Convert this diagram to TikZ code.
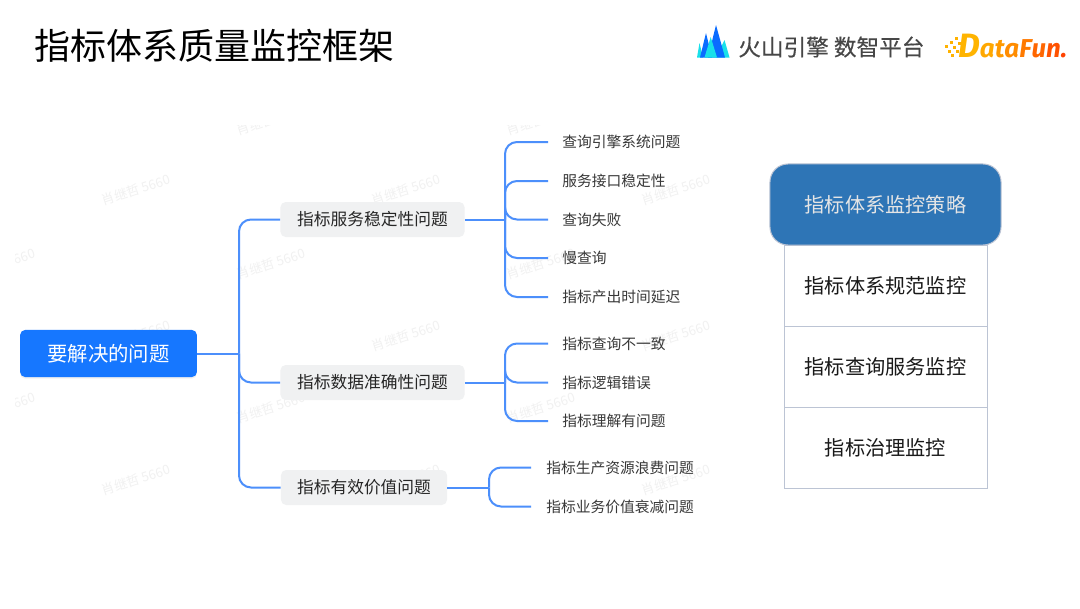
\documentclass[tikz,border=0pt]{standalone}
\usepackage{fontspec}
\usepackage{xcolor}
\usetikzlibrary{shadows}
\setmainfont{Noto Sans CJK SC}
\newfontfamily\logofont{Fira Sans}
\newfontfamily\volcfont[FakeBold=0.35]{Noto Sans CJK SC}
\definecolor{linkblue}{HTML}{4C8FFB}
\definecolor{rootblue}{HTML}{1677FF}
\definecolor{branchgray}{HTML}{F0F1F2}
\definecolor{headblue}{HTML}{2E75B6}
\definecolor{cellline}{HTML}{BCC4D4}
\definecolor{markgray}{HTML}{F1F1F1}
\definecolor{peakblue}{HTML}{0A6CFF}
\definecolor{peakcyan}{HTML}{19E0EA}
\tikzset{
    link/.style={draw=linkblue,line width=0.05cm,rounded corners=0.3cm},
    rootbox/.style={fill=rootblue,text=white,rounded corners=0.13cm,minimum width=4.42cm,minimum height=1.18cm,
        font=\fontsize{14.5}{16}\selectfont,drop shadow={opacity=0.12,shadow xshift=0pt,shadow yshift=-0.04cm}},
    branchbox/.style={fill=branchgray,text=black!85,rounded corners=0.13cm,minimum height=0.875cm,
        font=\fontsize{11.9}{14}\selectfont,inner xsep=0pt,text height=0.39cm,text depth=0.07cm},
    leaftext/.style={anchor=west,text=black!78,inner xsep=0.35cm,inner ysep=0pt,text height=0.35cm,text depth=0.07cm,
        font=\fontsize{10.5}{13}\selectfont},
    cellbox/.style={draw=cellline,line width=0.02cm,minimum width=5.075cm,minimum height=2.025cm,text=black!90,
        font=\fontsize{14.35}{17}\selectfont,text height=0.45cm,text depth=0.07cm},
    headbox/.style={draw=cellline,fill=headblue,line width=0.025cm,rounded corners=0.45cm,minimum width=5.775cm,
        minimum height=2.025cm,text=white!90!black,font=\fontsize{14.35}{17}\selectfont,text height=0.45cm,text depth=0.07cm},
    markstyle/.style={text=markgray,rotate=18,font=\fontsize{9.3}{10}\selectfont},
}
\begin{document}
\begin{tikzpicture}[x=0.025cm,y=-0.025cm]
    \useasboundingbox (0,0) rectangle (1080,608);
    \fill[white] (0,0) rectangle (1080,608);

    % faint watermark
    \begin{scope}
        \clip (15,125) rectangle (712,530);
        \foreach \xm/\ym in {136/190,406/190,676/190,1/264,271/264,541/264,136/336,406/336,676/336,1/408,271/408,541/408,136/480,406/480,676/480,271/120,541/120}
            \node[markstyle] (mark\xm\ym) at (\xm,\ym) {肖继哲 5660};
    \end{scope}

    \node[anchor=west,inner sep=0pt,text=black,font=\fontsize{25.6}{30}\selectfont] (title) at (34.5,46) {指标体系质量监控框架};

    % logos
    \fill[peakcyan] (697,57.5) -- (699.5,43) -- (703,57.5) -- cycle;
    \fill[peakcyan] (716,57.5) -- (724.5,40) -- (729.5,57.5) -- cycle;
    \fill[peakblue] (700,57.5) -- (706,33) -- (712,57.5) -- cycle;
    \fill[peakblue] (708,57.5) -- (716,25) -- (725,57.5) -- cycle;
    \fill[peakcyan] (704.5,57.5) -- (710.7,37) -- (717,57.5) -- cycle;
    \node[anchor=west,inner sep=0pt,text=black!72,font=\volcfont\fontsize{16.1}{18}\selectfont] (volc) at (738,47) {火山引擎 数智平台};
    \foreach \xq/\yq in {945/45,950/41,955/37,948/50,953/46,958/42,951/54,956/50}
        \fill[orange!60!yellow] (\xq,\yq) rectangle ++(3.2,3.2);
    \node[anchor=base west,inner sep=0pt,font=\logofont\bfseries\itshape\fontsize{18.4}{20}\selectfont] (datafun) at (958,57)
        {\textcolor[HTML]{FFB400}{\fontsize{24}{24}\selectfont D}\textcolor[HTML]{FFA800}{a}\textcolor[HTML]{FF9A00}{t}\textcolor[HTML]{FF8C00}{a}\textcolor[HTML]{FF7A00}{F}\textcolor[HTML]{FF6600}{u}\textcolor[HTML]{FF5200}{n}\textcolor[HTML]{FF4400}{.}};

    % tree
    \node[rootbox] (root) at (108.5,353.5) {要解决的问题};
    \node[branchbox,minimum width=4.6cm] (service) at (372.5,219.5) {指标服务稳定性问题};
    \node[branchbox,minimum width=4.6cm] (accuracy) at (372.5,382.5) {指标数据准确性问题};
    \node[branchbox,minimum width=4.15cm] (value) at (364,487.5) {指标有效价值问题};

    \coordinate (rootfork) at (239,353.5);
    \draw[link] (root.east) -- (rootfork);
    \foreach \target in {service,accuracy,value}
        \draw[link] (rootfork) |- (\target.west);

    \coordinate (servicefork) at (505,219.5);
    \draw[link] (service.east) -- (servicefork);
    \foreach \id/\ypos/\txt in {a/142/查询引擎系统问题,b/181/服务接口稳定性,c/219.5/查询失败,d/258/慢查询,e/297/指标产出时间延迟} {
        \node[leaftext] (service\id) at (548,\ypos) {\txt};
        \draw[link] (servicefork) |- (service\id.west);
    }

    \coordinate (accuracyfork) at (505,382.5);
    \draw[link] (accuracy.east) -- (accuracyfork);
    \foreach \id/\ypos/\txt in {a/343.5/指标查询不一致,b/382.5/指标逻辑错误,c/421/指标理解有问题} {
        \node[leaftext] (accuracy\id) at (548,\ypos) {\txt};
        \draw[link] (accuracyfork) |- (accuracy\id.west);
    }

    \coordinate (valuefork) at (489,487.5);
    \draw[link] (value.east) -- (valuefork);
    \foreach \id/\ypos/\txt in {a/467.5/指标生产资源浪费问题,b/506.5/指标业务价值衰减问题} {
        \node[leaftext,inner xsep=0.375cm] (value\id) at (531,\ypos) {\txt};
        \draw[link] (valuefork) |- (value\id.west);
    }

    % strategy table
    \node[cellbox] (norm) at (885.5,286) {指标体系规范监控};
    \node[cellbox] (query) at (885.5,367) {指标查询服务监控};
    \node[cellbox] (govern) at (885.5,448) {指标治理监控};
    \node[headbox] (strategy) at (885.5,204.5) {指标体系监控策略};
\end{tikzpicture}
\end{document}
